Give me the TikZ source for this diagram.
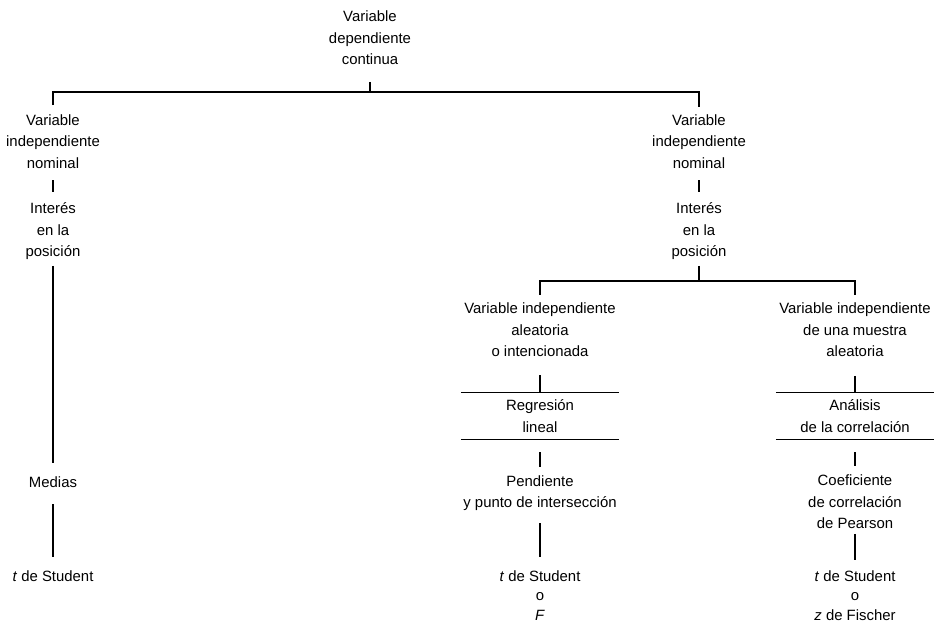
\documentclass[tikz,border=0pt]{standalone}
\usepackage{fontspec}
\setmainfont{Liberation Sans}
\usepackage{tikz}
\usetikzlibrary{calc}

\begin{document}
\begin{tikzpicture}[
        x=1pt, y=-1pt,
        txt/.style={align=center, inner sep=0pt, font=\fontsize{14.9}{21.5}\selectfont},
        txtfin/.style={txt, font=\fontsize{14.9}{19.5}\selectfont},
        banda/.style={txt, minimum width=158pt, minimum height=46pt},
        enlace/.style={line width=1.4pt},
        regla/.style={line width=1.1pt}
    ]
        \useasboundingbox (0,0) rectangle (944,625);
        % --- Columnas (posición horizontal) ---
        \def\xL{53}  % rama izquierda
        \def\xR{699} % rama derecha
        \def\xA{540} % regresión
        \def\xB{855} % correlación

        % --- Nodo raíz ---
        \node[txt] (raiz) at (370,37.7) {Variable\\dependiente\\continua};
        \coordinate (bus1) at (370,92);

        % --- Rama izquierda ---
        \node[txt] (L1) at (\xL,141.2) {Variable\\independiente\\nominal};
        \node[txt] (L2) at (\xL,231.2) {Interés\\en la\\posición};
        \node[txt] (L3) at (\xL,481.7) {Medias};
        \node[txt] (L4) at (\xL,575.7) {\textit{t} de Student};

        % --- Rama derecha ---
        \node[txt] (R1) at (\xR,141.2) {Variable\\independiente\\nominal};
        \node[txt] (R2) at (\xR,231.2) {Interés\\en la\\posición};
        \coordinate (bus2) at (\xR,281);

        % Regresión
        \node[txt] (A1) at (\xA,329.7) {Variable independiente\\aleatoria\\o intencionada};
        \node[banda] (A2) at (\xA,416) {Regresión\\lineal};
        \node[txt] (A3) at (\xA,493) {Pendiente\\y punto de intersección};
        \node[txtfin] (A4) at (\xA,595.2) {\textit{t} de Student\\o\\\textit{F}};

        % Correlación
        \node[txt] (B1) at (\xB,329.7) {Variable independiente\\de una muestra\\aleatoria};
        \node[banda] (B2) at (\xB,416) {Análisis\\de la correlación};
        \node[txt] (B3) at (\xB,501.7) {Coeficiente\\de correlación\\de Pearson};
        \node[txtfin] (B4) at (\xB,595.2) {\textit{t} de Student\\o\\\textit{z} de Fischer};

        % --- Conexiones ---
        \draw[enlace, shorten <=17pt] (raiz.south) -- (bus1);
        \draw[regla, shorten <=9pt, shorten >=7pt] (L1.north) |- (bus1) -| (R1.north);

        \draw[enlace, shorten <=12pt, shorten >=10.3pt] (L1.south) -- (L2.north);
        \draw[enlace, shorten <=6pt, shorten >=13.4pt] (L2.south) -- (L3.north);
        \draw[enlace, shorten <=17pt, shorten >=13.4pt] (L3.south) -- (L4.north);

        \draw[enlace, shorten <=12pt, shorten >=10.3pt] (R1.south) -- (R2.north);
        \draw[enlace, shorten <=6pt] (R2.south) -- (bus2);
        \draw[regla, shorten <=8pt, shorten >=8pt] (A1.north) |- (bus2) -| (B1.north);

        \draw[enlace, shorten <=18.5pt] (A1.south) -- (A2.north);
        \draw[enlace, shorten <=13pt, shorten >=8.4pt] (A2.south) -- (A3.north);
        \draw[enlace, shorten <=12.5pt, shorten >=13.4pt] (A3.south) -- (A4.north);

        \draw[enlace, shorten <=19pt] (B1.south) -- (B2.north);
        \draw[enlace, shorten <=13pt, shorten >=8.4pt] (B2.south) -- (B3.north);
        \draw[enlace, shorten <=5pt, shorten >=10.4pt] (B3.south) -- (B4.north);

        % --- Reglas de las bandas ---
        \draw[regla] (A2.north west) -- (A2.north east);
        \draw[regla] (A2.south west) -- (A2.south east);
        \draw[regla] (B2.north west) -- (B2.north east);
        \draw[regla] (B2.south west) -- (B2.south east);
    \end{tikzpicture}
\end{document}
